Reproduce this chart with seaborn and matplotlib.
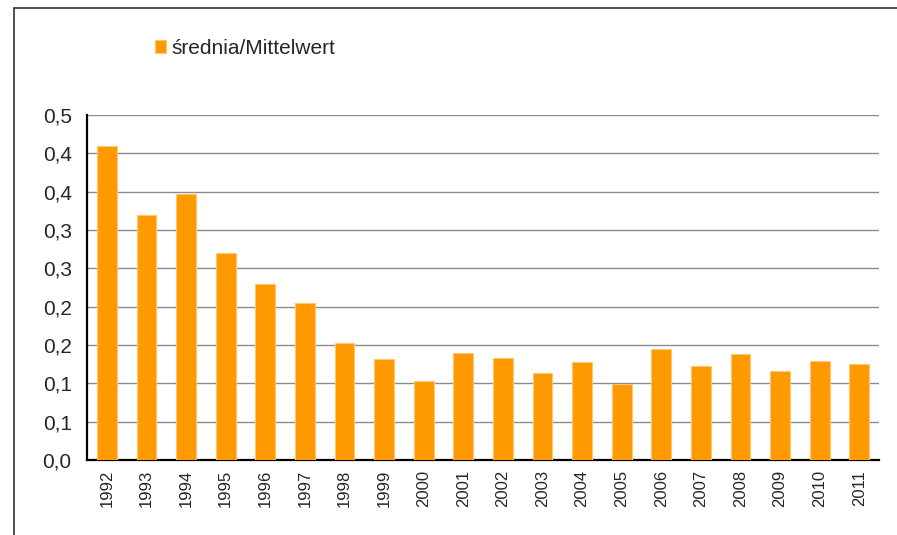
import numpy as np
import pandas as pd
import matplotlib
matplotlib.use('Agg')
import matplotlib.pyplot as plt
from matplotlib.lines import Line2D
from matplotlib.ticker import MultipleLocator, FuncFormatter, FixedLocator, NullFormatter
import seaborn as sns

# data
years = [str(y) for y in range(1992, 2012)]
values = [0.410, 0.320, 0.347, 0.270, 0.230, 0.205, 0.152, 0.132, 0.103, 0.140,
          0.133, 0.113, 0.128, 0.099, 0.145, 0.123, 0.138, 0.116, 0.129, 0.125]
series_label = 'średnia/Mittelwert'

df = pd.DataFrame({'Rok': years, 'Wartosc': values})

sns.set_style("white")
plt.rcParams['font.family'] = ['Liberation Sans', 'DejaVu Sans']

fig = plt.figure(figsize=(8.97, 5.35), dpi=100)
ax = fig.add_axes([87 / 897, 75 / 535, (879 - 87) / 897, (460 - 115) / 535])

sns.barplot(data=df, x='Rok', y='Wartosc', color='#FF9900', saturation=1,
            width=0.5, edgecolor='#FFC870', linewidth=0.8, ax=ax, zorder=3,
            label=series_label)

ax.set_xlim(-0.5, len(years) - 0.5)
ax.set_ylim(0, 0.45)
ax.yaxis.set_major_locator(MultipleLocator(0.05))


def half_up(v, pos):
    r = np.floor(v * 10 + 0.5 + 1e-9) / 10
    return f"{r:.1f}".replace('.', ',')


ax.yaxis.set_major_formatter(FuncFormatter(half_up))
ax.grid(True, axis='y', color='#8c8c8c', linewidth=1.0, zorder=0)
ax.set_axisbelow(True)

# x ticks: labels at centres, tick marks between categories
ax.tick_params(axis='x', which='major', length=0, labelsize=12, labelrotation=90, pad=7)
ax.xaxis.set_minor_locator(FixedLocator(np.arange(-0.5, len(years), 1.0)))
ax.xaxis.set_minor_formatter(NullFormatter())
ax.tick_params(axis='x', which='minor', length=5, width=1.2, color='black', direction='out')
ax.tick_params(axis='y', length=6, width=1.2, color='black', direction='out',
               labelsize=15, pad=5)

for s in ['top', 'right']:
    ax.spines[s].set_visible(False)
for s in ['left', 'bottom']:
    ax.spines[s].set_color('black')
    ax.spines[s].set_linewidth(1.6)

ax.set_xlabel('')
ax.set_ylabel('')

ax.legend(loc='upper left', bbox_to_anchor=(155 / 897, 1 - 39 / 535),
          bbox_transform=fig.transFigure, frameon=False, fontsize=15,
          handlelength=0.55, handleheight=0.55, handletextpad=0.25, borderpad=0,
          borderaxespad=0)

# outer chart frame (left and top edges visible)
fig.add_artist(Line2D([14 / 897, 14 / 897], [0, 1 - 8 / 535], transform=fig.transFigure,
                      color='#333333', linewidth=1.2))
fig.add_artist(Line2D([14 / 897, 1], [1 - 8 / 535, 1 - 8 / 535], transform=fig.transFigure,
                      color='#333333', linewidth=1.2))

fig.savefig('out.png', dpi=100)
